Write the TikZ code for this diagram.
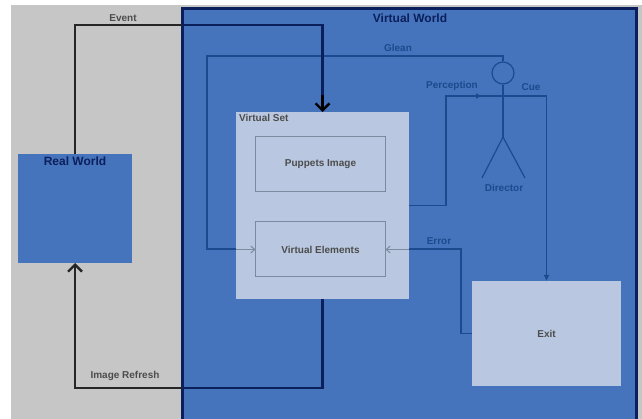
\documentclass[tikz,border=0pt]{standalone}
\usepackage{fontspec}
\setmainfont{Liberation Sans}
\usetikzlibrary{arrows.meta, positioning, calc}
\definecolor{backgray}{HTML}{C6C6C6}
\definecolor{worldblue}{HTML}{4674BC}
\definecolor{setblue}{HTML}{B9C8E0}
\definecolor{navy}{HTML}{0A1F5C}
\definecolor{linkblue}{HTML}{1B4A8E}
\definecolor{linkgray}{HTML}{7C8AA0}
\begin{document}
\begin{tikzpicture}[x=1pt, y=1pt, font=\fontsize{10}{12}\selectfont\bfseries,
  panel/.style={inner sep=0pt, outer sep=0pt, fill=#1},
  inbox/.style={draw=linkgray, line width=1pt, fill=setblue, inner sep=0pt, outer sep=0pt,
                minimum width=130pt, minimum height=55pt},
  a/.style={-{Straight Barb[length=7pt, width=14pt]}, line width=2.4pt, draw=black},
  b/.style={line width=2.4pt, draw=navy},
  c/.style={line width=1.2pt, draw=linkblue},
  ca/.style={c, -{Latex[length=6pt, width=6pt]}},
  cg/.style={line width=1pt, draw=linkgray, -{Straight Barb[length=4pt, width=7pt]}},
  lb/.style={inner sep=0pt, text=linkblue},
  lk/.style={inner sep=0pt, text=black!70},
  big/.style={inner sep=0pt, text=navy, font=\fontsize{12}{14}\selectfont\bfseries}]
  \clip (0,0) rectangle (642,-419);
  \node[panel=backgray, minimum width=631pt, minimum height=414pt] (back) at (326.5,-212) {};
  \node[panel=worldblue, draw=navy, line width=3pt, minimum width=454pt, minimum height=412pt] (world) at (409,-215) {};
  \node[panel=worldblue, minimum width=114pt, minimum height=109pt] (real) at (75,-208.5) {};
  \node[big, below=3pt of real.north] {Real World};
  \node[big] at (410,-18) {Virtual World};

  % director
  \node[draw=linkblue, line width=1.2pt, circle, inner sep=0pt, minimum size=22pt] (head) at (503,-73) {};
  \coordinate (shoulder) at (503,-96);
  \coordinate (hip) at (503,-137);
  \coordinate (legl) at (482,-178);
  \coordinate (legr) at (525,-178);
  \draw[c] (head) -- (hip);
  \draw[c] (legl) -- (hip) -- (legr);
  \node[lb] (director) at (504,-188) {Director};

  \node[panel=setblue, minimum width=149pt, minimum height=105pt] (exit) at (546.5,-333.5) {};
  \node[lk] at (exit) {Exit};

  % links under the set
  \coordinate (percin) at (482,-96);
  \coordinate (gleantop) at (503,-56);
  \coordinate (gleanleft) at (207,-56);
  \coordinate (errcol) at (461,-333.5);
  \draw[c] (head.north) -- (gleantop) -- (gleanleft) -- (207,-249) -- (240,-249);
  \draw[c] (exit.west) -- (errcol) -- (461,-249) -- (405,-249);
  \draw[ca] (shoulder) -| (exit.north);

  \node[panel=setblue, minimum width=173pt, minimum height=187pt] (set) at (322.5,-205.5) {};
  \node[lk, anchor=north west] at ($(set.north west)+(3pt,-2pt)$) {Virtual Set};
  \node[inbox, below=25pt of set.north, xshift=-2pt] (puppets) {};
  \node[lk] at (puppets) {Puppets Image};
  \node[inbox, below=30pt of puppets] (elements) {};
  \node[lk] at (elements) {Virtual Elements};

  \draw[cg] (elements.west -| set.west) -- (elements.west);
  \draw[cg] (elements.east -| set.east) -- (elements.east);
  \draw[c] (set.east) -- (446,-205.5) -- (446,-96) -- (shoulder);
  \draw[ca] (446,-96) -- (percin);

  % event and refresh
  \draw[line width=2.4pt, draw=black!85] (real.north) -- (75,-25) -- (182,-25);
  \draw[b] (182,-25) -- (322.5,-25) -- (322.5,-95);
  \draw[a] (322.5,-95) -- (set.north);
  \draw[b] (set.south) -- (322.5,-388) -- (182,-388);
  \draw[a, draw=black!85] (182,-388) -- (75,-388) -- (real.south);

  \node[lk] at (123,-18) {Event};
  \node[lk] at (125,-376) {Image Refresh};
  \node[lb] at (398,-48) {Glean};
  \node[lb] at (452,-86) {Perception};
  \node[lb] at (531,-87) {Cue};
  \node[lb] at (439,-241) {Error};
\end{tikzpicture}
\end{document}
